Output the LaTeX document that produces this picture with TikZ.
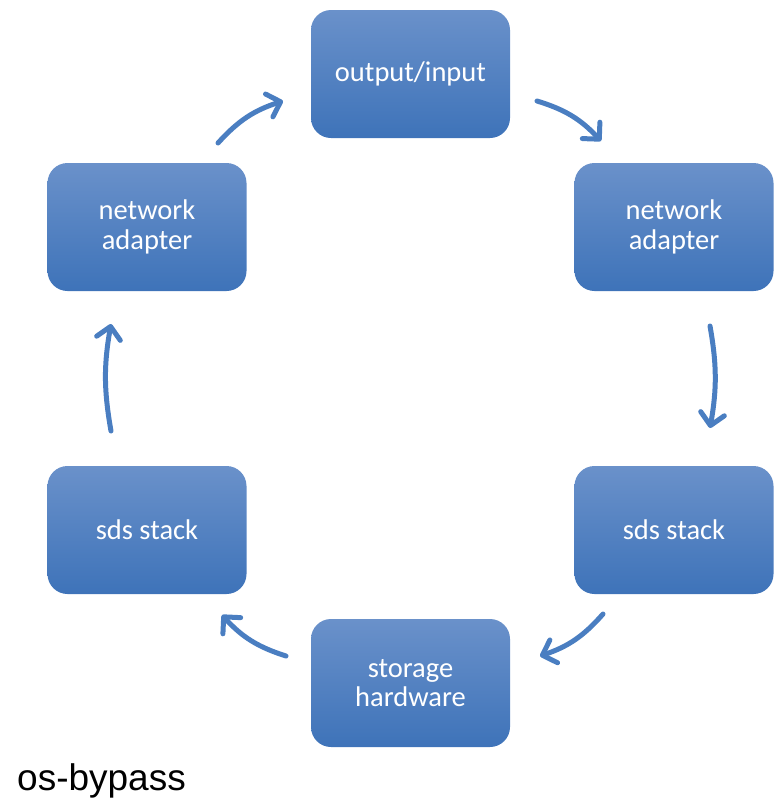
\documentclass[tikz,border=0pt]{standalone}
\usepackage{fontspec}
\setmainfont{Carlito}
\newfontfamily\labelfont{Liberation Sans}
\usetikzlibrary{arrows.meta}
\definecolor{boxtop}{RGB}{106,145,202}
\definecolor{boxbot}{RGB}{62,115,185}
\definecolor{arrowblue}{RGB}{74,126,193}
\begin{document}
\begin{tikzpicture}[x=1pt,y=-1pt,
  stepbox/.style={rectangle, rounded corners=20pt, minimum width=199pt, minimum height=128pt,
    top color=boxtop, bottom color=boxbot, draw=none, text=white, align=center,
    font=\fontsize{28.5}{29.5}\selectfont, inner sep=0pt},
  flow/.style={draw=arrowblue, line width=5pt, line cap=round,
    -{Straight Barb[length=12pt,width=24pt,line width=5pt,round]}, bend left=15}]
\useasboundingbox (0,0) rectangle (779,801);
% boxes arranged around the cycle
\node[stepbox] (io)  at (410.5,74)  {output/input};
\node[stepbox] (nar) at (674,227)   {network\\adapter};
\node[stepbox] (sdr) at (674,530)   {sds stack};
\node[stepbox] (st)  at (410.5,683) {storage\\hardware};
\node[stepbox] (sdl) at (147,530)   {sds stack};
\node[stepbox] (nal) at (147,227)   {network\\adapter};
% arrow end points in the gaps between boxes
\coordinate (a1s) at (218,143); \coordinate (a1e) at (283,101);
\coordinate (a2s) at (537,101); \coordinate (a2e) at (601,141);
\coordinate (a3s) at (710,326); \coordinate (a3e) at (710,428);
\coordinate (a4s) at (603,614); \coordinate (a4e) at (540,656);
\coordinate (a5s) at (286,656); \coordinate (a5e) at (222,615);
\coordinate (a6s) at (111,431); \coordinate (a6e) at (111,324);
\draw[flow] (a1s) to (a1e);
\draw[flow] (a2s) to (a2e);
\draw[flow, bend left=10] (a3s) to (a3e);
\draw[flow] (a4s) to (a4e);
\draw[flow] (a5s) to (a5e);
\draw[flow, bend left=10] (a6s) to (a6e);
\node[anchor=base west, inner sep=0pt, font=\labelfont\fontsize{37}{40}\selectfont] (cap) at (17,790) {os-bypass};
\end{tikzpicture}
\end{document}
